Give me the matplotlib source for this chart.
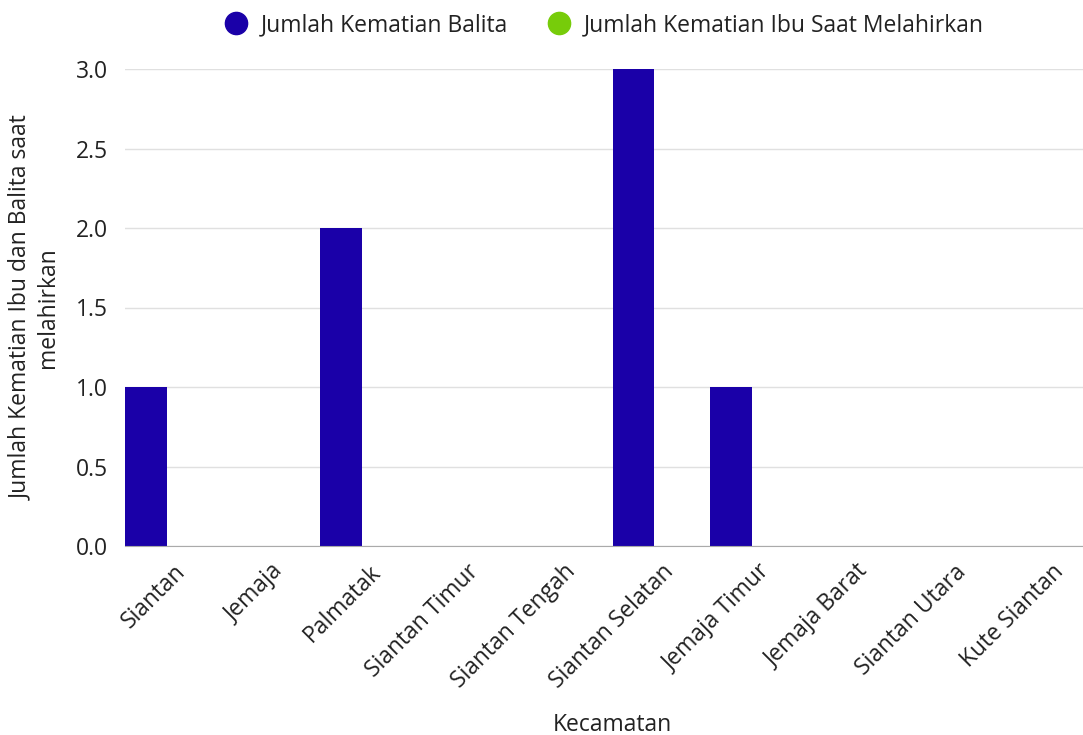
import matplotlib
matplotlib.use("Agg")
import matplotlib.pyplot as plt
import numpy as np
from matplotlib.lines import Line2D

categories = ["Siantan", "Jemaja", "Palmatak", "Siantan Timur", "Siantan Tengah",
              "Siantan Selatan", "Jemaja Timur", "Jemaja Barat", "Siantan Utara", "Kute Siantan"]
balita = [1, 0, 2, 0, 0, 3, 1, 0, 0, 0]
ibu = [0, 0, 0, 0, 0, 0, 0, 0, 0, 0]
series_names = ["Jumlah Kematian Balita", "Jumlah Kematian Ibu Saat Melahirkan"]
yticks = [0.0, 0.5, 1.0, 1.5, 2.0, 2.5, 3.0]

plt.rcParams['font.family'] = ['Open Sans', 'DejaVu Sans']
blue = '#1a00a8'
green = '#77cc0a'
text_c = '#222222'
fs = 16.5

fig = plt.figure(figsize=(10.83, 7.35), dpi=100)
W, H = 1083, 735
ax = fig.add_axes([125 / W, 1 - 546 / H, 975 / W, (546 - 69) / H])

x = np.arange(len(categories))
w = 0.43
ax.bar(x - 0.5 + w / 2, balita, width=w, color=blue, zorder=3)
ax.bar(x + 0.5 - w / 2, ibu, width=w, color=green, zorder=3)

ax.set_xlim(-0.5, len(categories) - 0.5)
ax.set_ylim(0, 3)
ax.set_yticks(yticks)
ax.set_yticklabels([f"{v:.1f}" for v in yticks], fontsize=fs, color=text_c)
ax.set_xticks(x)
ax.set_xticklabels(categories, rotation=45, ha='right', rotation_mode='anchor',
                   fontsize=fs, color=text_c)
ax.tick_params(axis='both', length=0)
ax.tick_params(axis='y', pad=12)
ax.tick_params(axis='x', pad=10)
ax.grid(axis='y', color='#e0e0e0', linewidth=1, zorder=0)
for s in ['top', 'right', 'left']:
    ax.spines[s].set_visible(False)
ax.spines['bottom'].set_color('#aaaaaa')
ax.spines['bottom'].set_zorder(4)

ax.set_xlabel("Kecamatan", fontsize=fs, color=text_c, labelpad=14)
ax.set_ylabel("Jumlah Kematian Ibu dan Balita saat\nmelahirkan", fontsize=fs,
              color=text_c, labelpad=12, linespacing=1.15)

handles = [Line2D([], [], marker='o', linestyle='', markersize=16, color=c)
           for c in (blue, green)]
fig.legend(handles, series_names, loc='center', bbox_to_anchor=(603 / W, 1 - 25 / H),
           ncol=2, frameon=False, fontsize=fs, labelcolor=text_c,
           handletextpad=0.45, columnspacing=1.65, handlelength=1.2)

fig.savefig("out.png", dpi=100)
